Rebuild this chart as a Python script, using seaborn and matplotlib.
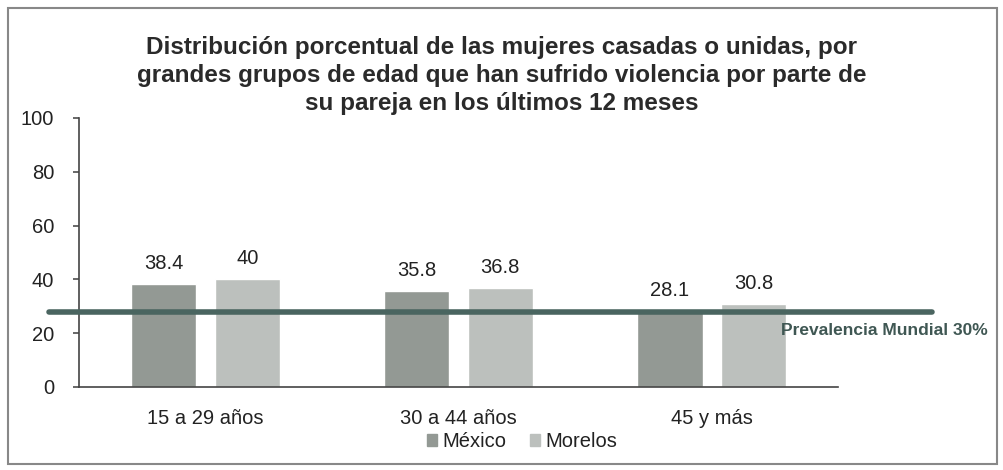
import pandas as pd
import matplotlib.pyplot as plt
import seaborn as sns
from matplotlib.patches import Rectangle

sns.set_theme(style="white")
plt.rcParams['font.family'] = ['Liberation Sans', 'DejaVu Sans']

grupos = ['15 a 29 años', '30 a 44 años', '45 y más']
mexico = [38.4, 35.8, 28.1]
morelos = [40, 36.8, 30.8]
series = ['México', 'Morelos']
prevalencia = 28  # posición visual de la línea en el original
titulo = ('Distribución porcentual de las mujeres casadas o unidas, por\n'
          'grandes grupos de edad que han sufrido violencia por parte de\n'
          'su pareja en los últimos 12 meses')

df = pd.DataFrame({'Grupo': grupos * 2,
                   'Serie': [series[0]] * 3 + [series[1]] * 3,
                   'Valor': mexico + morelos})

fig = plt.figure(figsize=(10.04, 4.7), dpi=100)
ax = fig.add_axes([0.0787, 0.1766, 0.7562, 0.5724])

colores = {'México': '#939994', 'Morelos': '#bcc0bd'}
sns.barplot(data=df, x='Grupo', y='Valor', hue='Serie', palette=colores,
            width=0.66, gap=0.22, ax=ax, legend=False, saturation=1)

for c in ax.containers:
    ax.bar_label(c, labels=[f"{v:g}" for v in c.datavalues],
                 padding=8, fontsize=14.5, color='#222222')

ax.axhline(prevalencia, xmin=-0.04, xmax=1.124, color='#4a6560', lw=4,
           clip_on=False, zorder=5)
ax.text(0.925, prevalencia - 7, 'Prevalencia Mundial 30%', transform=ax.get_yaxis_transform(),
        fontsize=12.5, fontweight='bold', color='#3f5753', va='center', ha='left')

ax.set_ylim(0, 100)
ax.set_yticks(range(0, 101, 20))
ax.set_xlabel('')
ax.set_ylabel('')
ax.tick_params(axis='y', labelsize=14.5, length=4, left=True, color='#555555',
               labelcolor='#222222', pad=14)
ax.tick_params(axis='x', labelsize=14.5, length=0, pad=16, labelcolor='#222222')
sns.despine(ax=ax, top=True, right=True)
ax.spines['left'].set_color('#444444')
ax.spines['bottom'].set_color('#444444')
ax.spines['left'].set_linewidth(1.2)
ax.spines['bottom'].set_linewidth(1.2)

fig.text(0.5, 0.84, titulo, ha='center', va='center', fontsize=17.5,
         fontweight='bold', color='#2a2a2a', linespacing=1.27)

handles = [Rectangle((0, 0), 1, 1, color=colores[s]) for s in series]
fig.legend(handles, series, loc='center', bbox_to_anchor=(0.52, 0.06), ncol=2,
           frameon=False, fontsize=14.5, handlelength=0.5, handleheight=0.5,
           columnspacing=1.2, handletextpad=0.25, labelcolor='#222222')

fig.patches.append(Rectangle((0.008, 0.012), 0.985, 0.972, transform=fig.transFigure,
                             fill=False, edgecolor='#888888', lw=1.5))

fig.savefig('out.png', dpi=100)
